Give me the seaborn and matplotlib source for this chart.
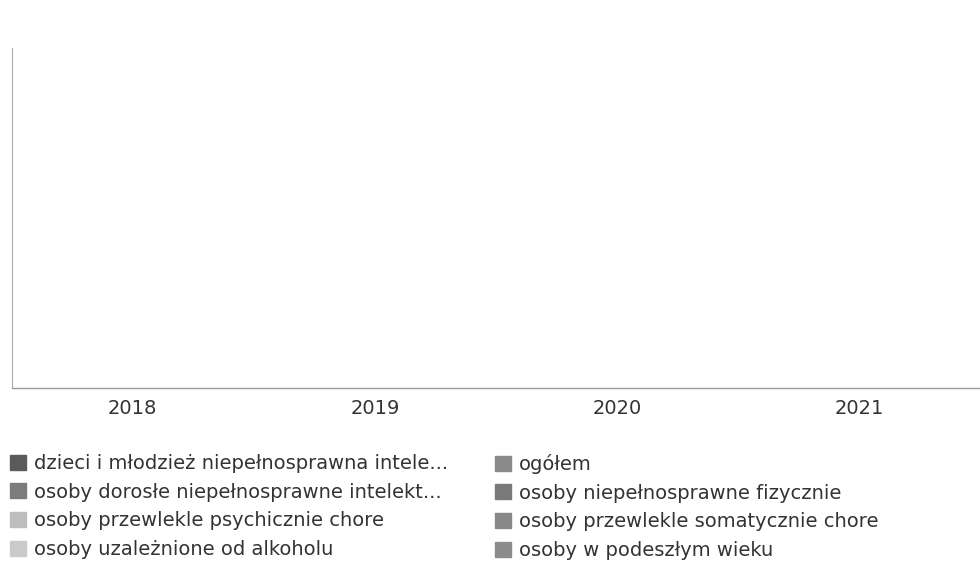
import numpy as np
import pandas as pd
import seaborn as sns
import matplotlib.pyplot as plt

# data: the chart is empty, every series has no value
years = ["2018", "2019", "2020", "2021"]
groups = [
    "dzieci i młodzież niepełnosprawna intele...",
    "osoby dorosłe niepełnosprawne intelekt...",
    "osoby przewlekle psychicznie chore",
    "osoby uzależnione od alkoholu",
    "ogółem",
    "osoby niepełnosprawne fizycznie",
    "osoby przewlekle somatycznie chore",
    "osoby w podeszłym wieku",
]
values = [
    [0, 0, 0, 0],
    [0, 0, 0, 0],
    [0, 0, 0, 0],
    [0, 0, 0, 0],
    [0, 0, 0, 0],
    [0, 0, 0, 0],
    [0, 0, 0, 0],
    [0, 0, 0, 0],
]
colors = ["#5a5a5a", "#7c7c7c", "#bdbdbd", "#cacaca",
          "#8a8a8a", "#7a7a7a", "#888888", "#8c8c8c"]

rows = []
for g, vals in zip(groups, values):
    for y, v in zip(years, vals):
        rows.append({"rok": y, "grupa": g, "wartosc": v})
df = pd.DataFrame(rows)

sns.set_style("white")
plt.rcParams["font.family"] = ["DejaVu Sans"]

fig = plt.figure(figsize=(9.8, 5.66), dpi=100)
ax = fig.add_axes([0.012, 0.314, 0.988, 0.601])

sns.barplot(data=df, x="rok", y="wartosc", hue="grupa", hue_order=groups,
            palette=colors, ax=ax, legend=False)
ax.set_ylim(0, 1)
ax.set_xlabel("")
ax.set_ylabel("")
ax.set_yticks([])
ax.tick_params(axis="x", length=0, pad=8, labelsize=14, labelcolor="#333333")
for s in ["top", "right"]:
    ax.spines[s].set_visible(False)
ax.spines["left"].set_color("#aaaaaa")
ax.spines["bottom"].set_color("#999999")
ax.spines["left"].set_linewidth(0.8)
ax.spines["bottom"].set_linewidth(1.0)

# legend in two columns, placed separately
handles = [plt.Rectangle((0, 0), 1, 1, color=c) for c in colors]
opts = dict(loc="upper left", frameon=False, fontsize=14, handlelength=0.82,
            handleheight=0.82, handletextpad=0.4, labelspacing=0.5,
            borderpad=0, borderaxespad=0, labelcolor="#333333")
fig.legend(handles[:4], groups[:4], bbox_to_anchor=(0.010, 0.198), **opts)
fig.legend(handles[4:], groups[4:], bbox_to_anchor=(0.505, 0.198), **opts)

fig.savefig("out.png", dpi=100)
